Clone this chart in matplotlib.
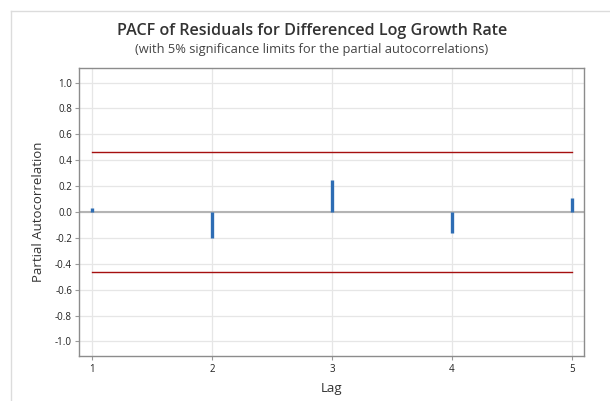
import matplotlib
matplotlib.use("Agg")
import matplotlib.pyplot as plt
import numpy as np

lags = [1, 2, 3, 4, 5]
pacf = [0.031, -0.20, 0.247, -0.16, 0.107]
sig_limit = 0.467
yticks = [-1.0, -0.8, -0.6, -0.4, -0.2, 0.0, 0.2, 0.4, 0.6, 0.8, 1.0]
ytick_labels = ["-1.0", "-0.8", "-0.6", "-0.4", "-0.2", "0.0", "0.2", "0.4", "0.6", "0.8", "1.0"]

plt.rcParams['font.family'] = ['Open Sans', 'DejaVu Sans']

fig = plt.figure(figsize=(6.10, 4.01), dpi=100)
ax = fig.add_axes([79/610, 45/401, (584-79)/610, (356-68)/401])

# outer border lines (top & left)
fig.add_artist(plt.Line2D([11/610, 11/610], [0, 1 - 11/401], transform=fig.transFigure,
                          color="#dcdcdc", lw=1.0))
fig.add_artist(plt.Line2D([11/610, 1.0], [1 - 11/401, 1 - 11/401], transform=fig.transFigure,
                          color="#dcdcdc", lw=1.0))

ax.set_xlim(0.89, 5.1)
ax.set_ylim(-1.112, 1.112)

ax.grid(True, color="#e6e6e6", lw=0.9)
ax.set_axisbelow(True)

ax.axhline(0, color="#b4b4b4", lw=1.5, zorder=2)
ax.plot([lags[0], lags[-1]], [sig_limit, sig_limit], color="#a50f0f", lw=1.0, zorder=3)
ax.plot([lags[0], lags[-1]], [-sig_limit, -sig_limit], color="#a50f0f", lw=1.0, zorder=3)

ax.vlines(lags, 0, pacf, color="#2e6db4", lw=2.4, zorder=4)

ax.set_xticks(lags)
ax.set_xticklabels([str(l) for l in lags])
ax.set_yticks(yticks)
ax.set_yticklabels(ytick_labels)
ax.tick_params(axis='both', labelsize=7, colors="#9a9a9a", labelcolor="#222222",
               length=3, width=0.8)
ax.tick_params(axis='x', pad=3)
ax.tick_params(axis='y', pad=2)

for s in ax.spines.values():
    s.set_color("#8c8c8c")
    s.set_linewidth(1.0)

ax.set_xlabel("Lag", fontsize=9.5, color="#333333", labelpad=5, fontweight="medium")
ax.set_ylabel("Partial Autocorrelation", fontsize=9.5, color="#333333", labelpad=7,
              fontweight="medium")

fig.text(312/610, 1 - 31/401, "PACF of Residuals for Differenced Log Growth Rate",
         ha="center", va="center", fontsize=11.6, fontweight="semibold", color="#333333")
fig.text(312/610, 1 - 49/401, "(with 5% significance limits for the partial autocorrelations)",
         ha="center", va="center", fontsize=9.3, color="#444444")

fig.savefig("out.png", dpi=100)
